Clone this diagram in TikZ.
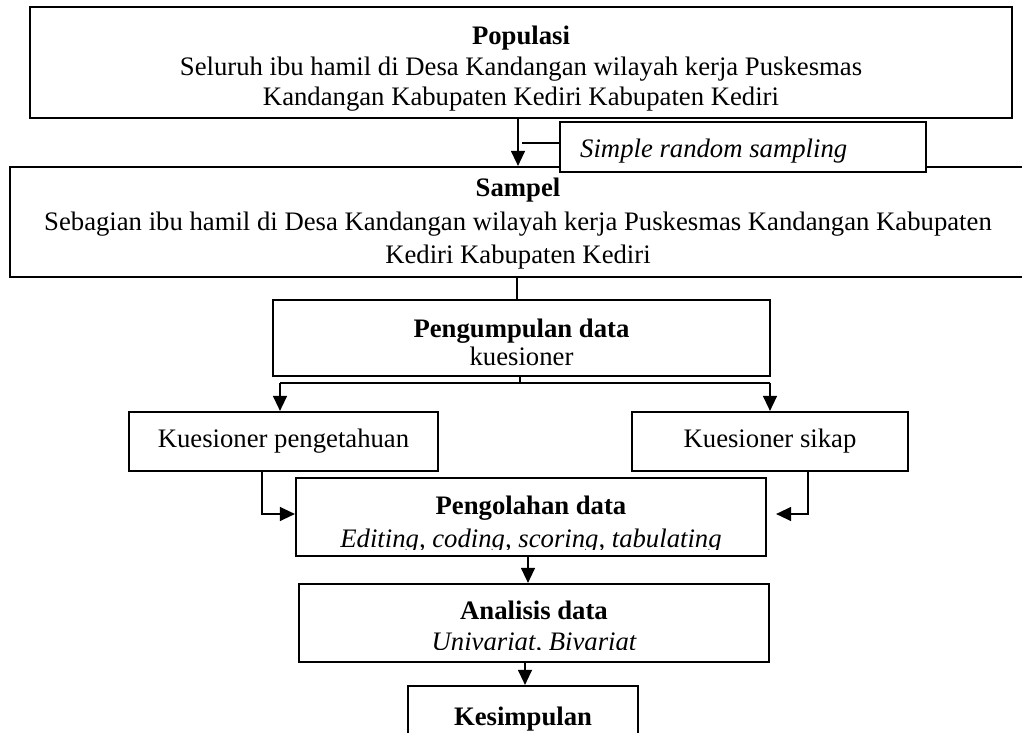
\documentclass[tikz,border=0pt]{standalone}
\usepackage{fontspec}
\setmainfont{Liberation Serif}
\usetikzlibrary{arrows.meta}
\newcommand\dfont{\fontsize{26.7}{31}\selectfont}
\begin{document}
\begin{tikzpicture}[x=1pt,y=-1pt,
 box/.style={draw, line width=2.2pt, fill=white, inner sep=0pt},
 txt/.style={inner sep=0pt, align=center, font=\dfont},
 conn/.style={line width=1.3pt},
 arr/.style={conn, -{Triangle[length=15pt,width=14pt]}}]
\useasboundingbox[fill=white] (0,0) rectangle (1022,733);

% Populasi
\node[box, minimum width=982, minimum height=111] (pop) at (521,62.5) {};
\node[txt, font=\fontsize{26.7}{30.5}\selectfont] (poptxt) at (521,69)
 {\textbf{Populasi}\\Seluruh ibu hamil di Desa Kandangan wilayah kerja Puskesmas\\Kandangan Kabupaten Kediri Kabupaten Kediri};

% Sampel
\node[box, minimum width=1016, minimum height=110] (sampel) at (518,222) {};
\node[txt, font=\fontsize{26.7}{33.5}\selectfont] (sampeltxt) at (518,224)
 {\textbf{Sampel}\\Sebagian ibu hamil di Desa Kandangan wilayah kerja Puskesmas Kandangan Kabupaten\\Kediri Kabupaten Kediri};

% Simple random sampling
\node[box, minimum width=366, minimum height=50] (srs) at (743,147) {};
\node[txt, anchor=west, font=\dfont\itshape] (srstxt) at (580,151) {Simple random sampling};

\coordinate (j1) at (518,143);
\draw[arr] (pop.south -| j1) -- (sampel.north -| j1);
\draw[conn] ([xshift=4pt]j1) -- (srs.west |- j1);

% Pengumpulan data
\node[box, minimum width=497, minimum height=76] (kumpul) at (521.5,338) {};
\node[txt, font=\fontsize{26.7}{28}\selectfont] (kumpultxt) at (521.5,342.5)
 {\textbf{Pengumpulan data}\\kuesioner};
\coordinate (j2) at (517,290);
\draw[conn] (sampel.south -| j2) -- (kumpul.north -| j2);

% branches
\coordinate (bm) at (520,383);
\coordinate (bl) at (280,383);
\coordinate (br) at (770,383);
\node[box, minimum width=309, minimum height=59] (kp) at (283.5,441.5) {};
\node[txt] (kptxt) at (283.5,441) {Kuesioner pengetahuan};
\node[box, minimum width=276, minimum height=59] (ks) at (770,441.5) {};
\node[txt] (kstxt) at (770,441) {Kuesioner sikap};
\draw[conn] (kumpul.south -| bm) -- (bm);
\draw[conn] (bl) -- (br);
\draw[arr] (bl) -- (kp.north -| bl);
\draw[arr] (br) -- (ks.north -| br);

% Pengolahan data
\node[box, minimum width=470, minimum height=78] (olah) at (531,517) {};
\begin{scope}
 \clip (olah.north west) rectangle ([yshift=8pt]olah.south east);
 \node[txt, font=\fontsize{26.7}{33}\selectfont] (olahtxt) at (531,524.5)
  {\textbf{Pengolahan data}\\\itshape Editing, coding, scoring, tabulating};
\end{scope}
\coordinate (cl) at (262,514);
\coordinate (cr) at (808,514);
\draw[arr] (kp.south -| cl) -- (cl) -- (olah.west |- cl);
\draw[arr, shorten >=9pt] (ks.south -| cr) -- (cr) -- (olah.east |- cr);

% Analisis data
\node[box, minimum width=470, minimum height=78] (anal) at (534,623) {};
\begin{scope}
 \clip (anal.north west) rectangle ([yshift=14pt]anal.south east);
 \node[txt] (analtxt) at (534,628) {\textbf{Analisis data}\\\itshape Univariat, Bivariat};
\end{scope}
\coordinate (ax) at (528,570);
\draw[arr] (olah.south -| ax) -- (anal.north -| ax);

% Kesimpulan
\node[box, minimum width=230, minimum height=62] (kes) at (523,717) {};
\node[txt] (kestxt) at (523,719) {\textbf{Kesimpulan}};
\coordinate (kx) at (525,673);
\draw[arr] (anal.south -| kx) -- (kes.north -| kx);
\end{tikzpicture}
\end{document}
